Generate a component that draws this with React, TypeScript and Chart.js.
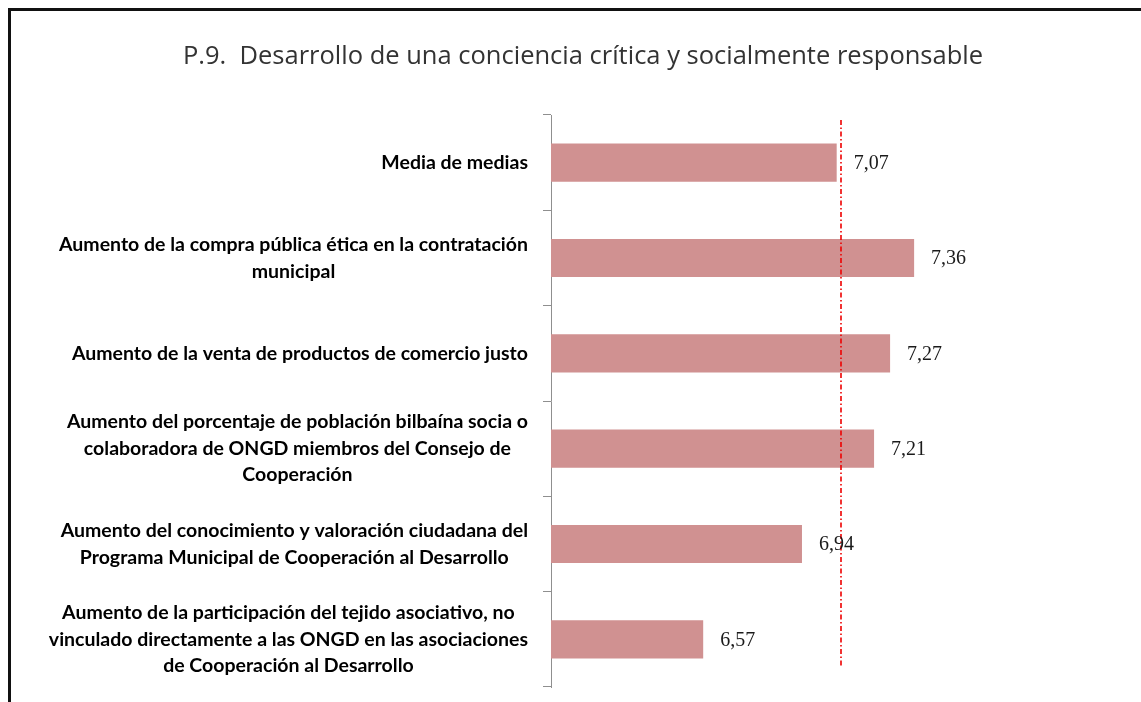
import React, { useEffect, useRef } from "react";
import { Chart, registerables } from "chart.js";

Chart.register(...registerables);

const chartTitle = "P.9.  Desarrollo de una conciencia crítica y socialmente responsable";

const categories: string[][] = [
  ["Media de medias"],
  ["Aumento de la compra pública ética en la contratación", "municipal"],
  ["Aumento de la venta de productos de comercio justo"],
  [
    "Aumento del porcentaje de población bilbaína socia o",
    "colaboradora de ONGD miembros del Consejo de",
    "Cooperación",
  ],
  [
    "Aumento del conocimiento y valoración ciudadana del",
    "Programa Municipal de Cooperación al Desarrollo",
  ],
  [
    "Aumento de la participación del tejido asociativo, no",
    "vinculado directamente a las ONGD en las asociaciones",
    "de Cooperación al Desarrollo",
  ],
];

const values = [7.07, 7.36, 7.27, 7.21, 6.94, 6.57];

const referenceValue = 7.085;

const axisMin = 6;
const axisMax = 8;

const fmt = (v: number) => v.toFixed(2).replace(".", ",");

export default function App() {
  const ref = useRef<HTMLCanvasElement | null>(null);

  useEffect(() => {
    document.body.style.overflow = "hidden";
    const canvas = ref.current;
    if (!canvas) return;

    const overlay = {
      id: "overlay",
      afterDatasetsDraw(chart: any) {
        const ctx = chart.ctx as CanvasRenderingContext2D;
        const xs = chart.scales.x;
        const ys = chart.scales.y;
        const area = chart.chartArea;
        ctx.save();

        // title
        ctx.fillStyle = "#333";
        ctx.font = '25.5px "Open Sans"';
        ctx.textAlign = "center";
        ctx.textBaseline = "middle";
        ctx.fillText(chartTitle, 583, 57);

        // reference dashed line
        const rx = Math.round(xs.getPixelForValue(referenceValue));
        ctx.strokeStyle = "#ee0000";
        ctx.lineWidth = 1.6;
        ctx.setLineDash([5, 2.5, 1.5, 2.5]);
        ctx.beginPath();
        ctx.moveTo(rx, area.top + 5);
        ctx.lineTo(rx, area.bottom - 19);
        ctx.stroke();
        ctx.setLineDash([]);

        // value labels
        ctx.fillStyle = "#1a1a1a";
        ctx.font = '20px "Liberation Serif"';
        ctx.textAlign = "left";
        ctx.textBaseline = "middle";
        values.forEach((v, i) => {
          const x = xs.getPixelForValue(v) + 17;
          const y = ys.getPixelForValue(i) + 1;
          ctx.fillText(fmt(v), x, y);
        });

        // category labels: block right-aligned, lines centered in block
        ctx.font = 'bold 19.5px "Lato"';
        ctx.fillStyle = "#000";
        ctx.textAlign = "center";
        const lh = 26.5;
        const rightEdge = area.left - 23;
        categories.forEach((lines, i) => {
          const cy = ys.getPixelForValue(i);
          const maxW = Math.max(...lines.map((l) => ctx.measureText(l).width));
          const cx = rightEdge - maxW / 2;
          lines.forEach((l, j) => {
            const y = cy + (j - (lines.length - 1) / 2) * lh;
            ctx.fillText(l, cx, y);
          });
        });
        ctx.restore();
      },
    };

    const chart = new Chart(canvas, {
      type: "bar",
      data: {
        labels: categories.map((c) => c.join(" ")),
        datasets: [
          {
            data: values,
            backgroundColor: "#d09191",
            borderWidth: 0,
            barPercentage: 0.4,
            categoryPercentage: 1,
          },
        ],
      },
      options: {
        indexAxis: "y",
        animation: false,
        responsive: true,
        maintainAspectRatio: false,
        layout: { padding: { left: 543, right: 56, top: 115, bottom: 15 } },
        plugins: {
          legend: { display: false },
          tooltip: { enabled: false },
          title: { display: false },
        },
        scales: {
          x: { display: false, min: axisMin, max: axisMax },
          y: {
            type: "category",
            offset: true,
            grid: {
              offset: true,
              drawOnChartArea: false,
              drawTicks: true,
              tickLength: 8,
              color: "#8f8f8f",
            },
            border: { display: true, color: "#8f8f8f" },
            ticks: { display: false },
            afterFit: (s: any) => {
              s.width = 8;
            },
          },
        },
      },
      plugins: [overlay],
    });

    return () => chart.destroy();
  }, []);

  return (
    <div style={{ position: "fixed", left: 0, top: 0, width: 1141, height: 702, background: "#fff" }}>
      <canvas ref={ref} />
      <div
        style={{
          position: "absolute",
          left: 8,
          top: 8,
          width: 1141,
          height: 702,
          borderLeft: "3px solid #111",
          borderTop: "3px solid #111",
          pointerEvents: "none",
        }}
      />
    </div>
  );
}
